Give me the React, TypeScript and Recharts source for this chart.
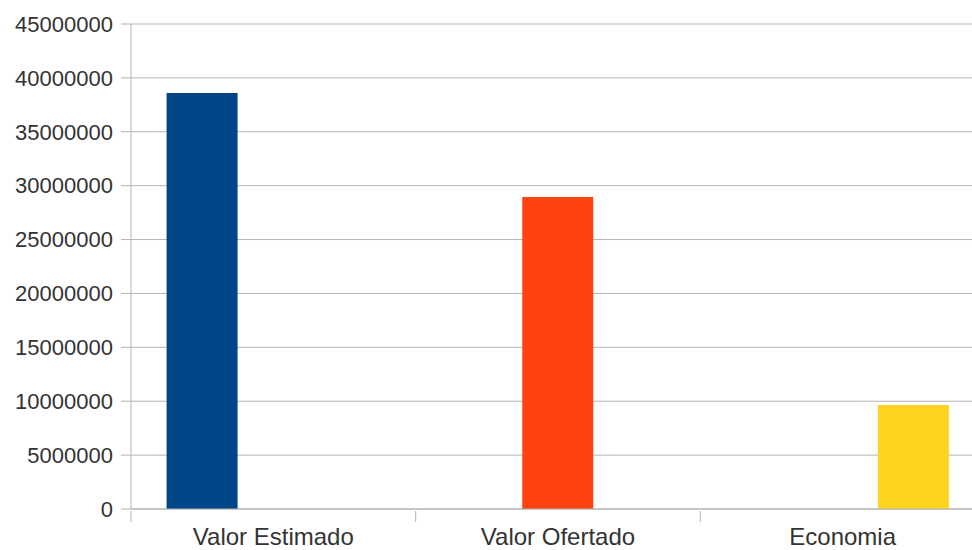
import { BarChart, Bar, XAxis, YAxis, CartesianGrid } from 'recharts';

const categories = ['Valor Estimado', 'Valor Ofertado', 'Economia'];
const valorEstimado = [38600000, null, null];
const valorOfertado = [null, 28950000, null];
const economia = [null, null, 9650000];
const yTicks = [0, 5000000, 10000000, 15000000, 20000000, 25000000, 30000000, 35000000, 40000000, 45000000];

const data = categories.map((name, i) => ({
  name,
  estimado: valorEstimado[i],
  ofertado: valorOfertado[i],
  economia: economia[i],
}));

const FONT = '"Liberation Sans", Arial, sans-serif';
const GRID = '#b3b3b3';
const TEXT = '#333';

const CHART_W = 990;
const Y_W = 131;
const RIGHT = 5;
const BAND = (CHART_W - Y_W - RIGHT) / categories.length;

// category ticks sit on the band edges, labels in the middle
const CategoryTick = (props: any) => {
  const { x, y, payload } = props;
  const left = x - BAND / 2;
  return (
    <g>
      <line x1={left} x2={left} y1={y - 6} y2={y + 5} stroke={GRID} />
      <text x={x} y={y + 11} dy="0.71em" textAnchor="middle" fill={TEXT} fontSize={24} fontFamily={FONT}>
        {payload.value}
      </text>
    </g>
  );
};

export default function App() {
  return (
    <div style={{ position: 'absolute', left: 0, top: 0, width: 972, height: 550, overflow: 'hidden', background: '#fff' }}>
      <BarChart
        width={CHART_W}
        height={550}
        data={data}
        margin={{ top: 24, right: RIGHT, left: 0, bottom: 0 }}
        barCategoryGap="12.5%"
        barGap={0}
      >
        <CartesianGrid stroke={GRID} vertical={false} />
        <XAxis
          dataKey="name"
          height={41}
          axisLine={{ stroke: GRID }}
          tickLine={false}
          tick={<CategoryTick />}
          interval={0}
        />
        <YAxis
          width={Y_W}
          domain={[0, 45000000]}
          ticks={yTicks}
          interval={0}
          axisLine={{ stroke: GRID }}
          tickLine={{ stroke: GRID }}
          tickSize={10}
          tickMargin={8}
          tick={{ fill: TEXT, fontSize: 22, fontFamily: FONT }}
        />
        <Bar dataKey="estimado" fill="#004586" isAnimationActive={false} />
        <Bar dataKey="ofertado" fill="#ff420e" isAnimationActive={false} />
        <Bar dataKey="economia" fill="#ffd320" isAnimationActive={false} />
      </BarChart>
    </div>
  );
}
